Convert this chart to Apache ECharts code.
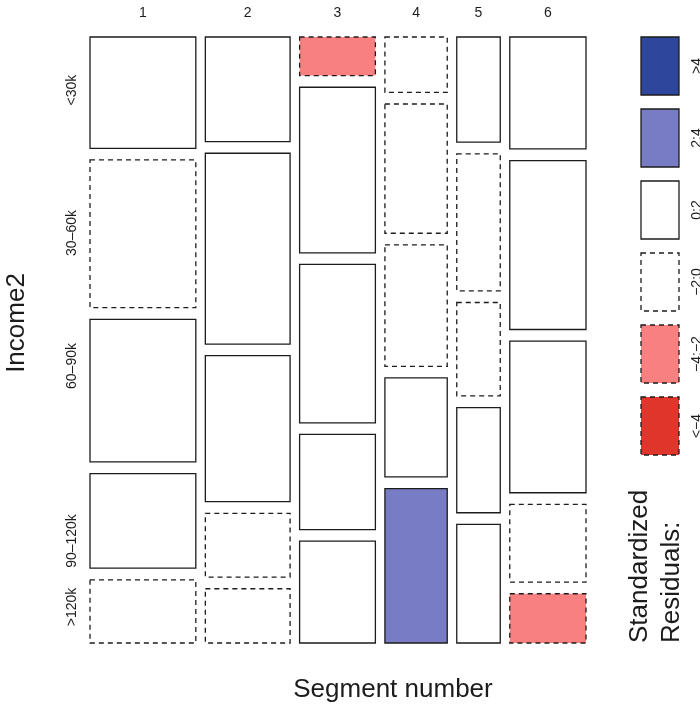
<!DOCTYPE html>
<html>
<head>
<meta charset="utf-8">
<script src="https://cdn.jsdelivr.net/npm/echarts@6/dist/echarts.min.js"></script>
<style>
  html, body { margin: 0; padding: 0; background: #ffffff; }
  #chart { width: 700px; height: 709px; }
</style>
</head>
<body>
<div id="chart"></div>
<script>
// Segment number (columns) and income class (rows within each column)
const segments = ['1', '2', '3', '4', '5', '6'];
const incomeLevels = ['<30k', '30–60k', '60–90k', '90–120k', '>120k'];

// Share of respondents in each segment (%), sets the column widths
const segmentShare = [23.6, 18.9, 16.9, 13.9, 9.7, 17.0];

// Income distribution within each segment (%), sets the tile heights
const incomeSeg1 = [19.9, 26.4, 25.5, 16.9, 11.3];
const incomeSeg2 = [18.7, 34.1, 26.1, 11.4, 9.7];
const incomeSeg3 = [6.9, 29.6, 28.3, 17.0, 18.2];
const incomeSeg4 = [9.9, 23.1, 21.7, 17.7, 27.6];
const incomeSeg5 = [18.8, 24.5, 16.7, 18.8, 21.2];
const incomeSeg6 = [20.0, 30.2, 27.1, 13.9, 8.8];

// Standardized residual band of each tile
const residSeg1 = ['0:2', '-2:0', '0:2', '0:2', '-2:0'];
const residSeg2 = ['0:2', '0:2', '0:2', '-2:0', '-2:0'];
const residSeg3 = ['-4:-2', '0:2', '0:2', '0:2', '0:2'];
const residSeg4 = ['-2:0', '-2:0', '-2:0', '0:2', '2:4'];
const residSeg5 = ['0:2', '-2:0', '-2:0', '0:2', '0:2'];
const residSeg6 = ['0:2', '0:2', '0:2', '-2:0', '-4:-2'];

// Residual bands shown in the shading key (top to bottom)
const bandKeys = ['>4', '2:4', '0:2', '-2:0', '-4:-2', '<-4'];
const bandLabels = ['>4', '2:4', '0:2', '−2:0', '−4:−2', '<−4'];

const incomeBySegment = [incomeSeg1, incomeSeg2, incomeSeg3, incomeSeg4, incomeSeg5, incomeSeg6];
const residBySegment = [residSeg1, residSeg2, residSeg3, residSeg4, residSeg5, residSeg6];

const bandStyle = {
  '>4':    { fill: '#2E479C', dashed: false },
  '2:4':   { fill: '#787CC4', dashed: false },
  '0:2':   { fill: '#FFFFFF', dashed: false },
  '-2:0':  { fill: '#FFFFFF', dashed: true },
  '-4:-2': { fill: '#F98080', dashed: true },
  '<-4':   { fill: '#E0352A', dashed: true }
};

const STROKE = '#1c1c1c';
const GAP = 0.0192;          // spacing between tiles, in unit-square coordinates
const FONT = 'Liberation Sans, Arial, Helvetica, sans-serif';

// Vertical anchors of the income labels along the left border (unit-square y)
const incomeLabelAnchors = [0.0875, 0.3234, 0.5429, 0.8317, 0.9406];

// Mosaic layout on the unit square: columns split by segment, tiles by income
const tiles = [];
const colCenters = [];
const usableW = 1 - GAP * (segments.length - 1);
const usableH = 1 - GAP * (incomeLevels.length - 1);
let xCursor = 0;
segments.forEach((seg, j) => {
  const w = segmentShare[j] / 100 * usableW;
  colCenters.push([xCursor + w / 2, seg]);
  let yCursor = 0;
  incomeLevels.forEach((lvl, i) => {
    const h = incomeBySegment[j][i] / 100 * usableH;
    tiles.push([xCursor, xCursor + w, yCursor, yCursor + h, residBySegment[j][i], seg, lvl]);
    yCursor += h + GAP;
  });
  xCursor += w + GAP;
});
const rowLabels = incomeLevels.map((lvl, i) => [incomeLabelAnchors[i], lvl]);

const chart = echarts.init(document.getElementById('chart'), null, { renderer: 'canvas' });

const option = {
  animation: false,
  backgroundColor: '#ffffff',
  grid: { left: 90, right: 114, top: 37, bottom: 66 },
  xAxis: { type: 'value', min: 0, max: 1, show: false },
  yAxis: { type: 'value', min: 0, max: 1, inverse: true, show: false },
  series: [
    {
      type: 'custom',
      name: 'tiles',
      coordinateSystem: 'cartesian2d',
      data: tiles,
      encode: { x: [0, 1], y: [2, 3] },
      renderItem: function (params, api) {
        const p0 = api.coord([api.value(0), api.value(2)]);
        const p1 = api.coord([api.value(1), api.value(3)]);
        const st = bandStyle[tiles[params.dataIndex][4]];
        return {
          type: 'rect',
          shape: {
            x: Math.min(p0[0], p1[0]),
            y: Math.min(p0[1], p1[1]),
            width: Math.abs(p1[0] - p0[0]),
            height: Math.abs(p1[1] - p0[1])
          },
          style: {
            fill: st.fill,
            stroke: STROKE,
            lineWidth: 1.3,
            lineDash: st.dashed ? [5, 4] : null
          }
        };
      }
    },
    {
      type: 'custom',
      name: 'segmentLabels',
      coordinateSystem: 'cartesian2d',
      data: colCenters,
      renderItem: function (params, api) {
        const p = api.coord([api.value(0), 0]);
        return {
          type: 'text',
          x: p[0],
          y: p[1] - 24,
          style: {
            text: colCenters[params.dataIndex][1],
            fill: '#1c1c1c',
            font: '14px ' + FONT,
            align: 'center',
            verticalAlign: 'middle'
          }
        };
      }
    },
    {
      type: 'custom',
      name: 'incomeLabels',
      coordinateSystem: 'cartesian2d',
      data: rowLabels,
      renderItem: function (params, api) {
        const p = api.coord([0, api.value(0)]);
        return {
          type: 'text',
          x: p[0] - 18,
          y: p[1],
          rotation: Math.PI / 2,
          style: {
            text: rowLabels[params.dataIndex][1],
            fill: '#1c1c1c',
            font: '14px ' + FONT,
            align: 'center',
            verticalAlign: 'middle'
          }
        };
      }
    }
  ],
  graphic: []
};

// Axis titles
option.graphic.push({
  type: 'text', x: 393, y: 690,
  style: { text: 'Segment number', fill: '#1c1c1c', font: '26px ' + FONT, align: 'center', verticalAlign: 'middle' }
});
option.graphic.push({
  type: 'text', x: 17, y: 323, rotation: Math.PI / 2,
  style: { text: 'Income2', fill: '#1c1c1c', font: '26px ' + FONT, align: 'center', verticalAlign: 'middle' }
});

// Shading key
bandKeys.forEach((key, k) => {
  const st = bandStyle[key];
  const top = 37 + k * 72;
  option.graphic.push({
    type: 'rect',
    shape: { x: 641, y: top, width: 38, height: 58 },
    style: { fill: st.fill, stroke: STROKE, lineWidth: 1.3, lineDash: st.dashed ? [5, 4] : null }
  });
  option.graphic.push({
    type: 'text', x: 697, y: top + 29, rotation: Math.PI / 2,
    style: { text: bandLabels[k], fill: '#1c1c1c', font: '14px ' + FONT, align: 'center', verticalAlign: 'middle' }
  });
});
option.graphic.push({
  type: 'text', x: 640, y: 643, rotation: Math.PI / 2,
  style: { text: 'Standardized', fill: '#1c1c1c', font: '26px ' + FONT, align: 'left', verticalAlign: 'middle' }
});
option.graphic.push({
  type: 'text', x: 672, y: 643, rotation: Math.PI / 2,
  style: { text: 'Residuals:', fill: '#1c1c1c', font: '26px ' + FONT, align: 'left', verticalAlign: 'middle' }
});

chart.setOption(option);
</script>
</body>
</html>
